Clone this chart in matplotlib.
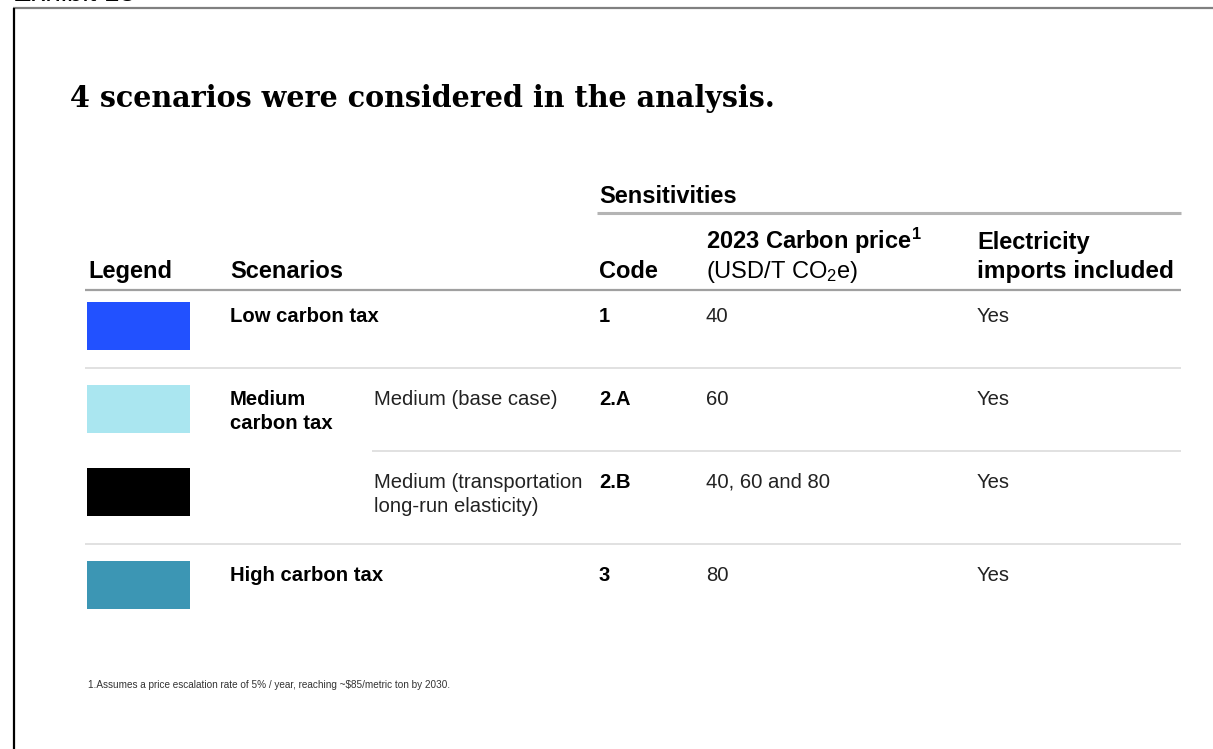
import matplotlib
matplotlib.use("Agg")
import matplotlib.pyplot as plt
from matplotlib.patches import Rectangle

# table content
legend_colors = ["#2251FF", "#AAE6F0", "#000000", "#3C96B4"]
scenarios = ["Low carbon tax", "Medium\ncarbon tax", "", "High carbon tax"]
sub_scenarios = ["", "Medium (base case)", "Medium (transportation\nlong-run elasticity)", ""]
codes = ["1", "2.A", "2.B", "3"]
carbon_prices = ["40", "60", "40, 60 and 80", "80"]
imports_included = ["Yes", "Yes", "Yes", "Yes"]

title = "4 scenarios were considered in the analysis."
footnote = "1.Assumes a price escalation rate of 5% / year, reaching ~$85/metric ton by 2030."

plt.rcParams["mathtext.fontset"] = "custom"
plt.rcParams["mathtext.rm"] = "Liberation Sans"
plt.rcParams["mathtext.it"] = "Liberation Sans:italic"
plt.rcParams["mathtext.bf"] = "Liberation Sans:bold"

W, H = 1213, 749
fig = plt.figure(figsize=(W / 100, H / 100), dpi=100)
ax = fig.add_axes([0, 0, 1, 1])
ax.set_xlim(0, W)
ax.set_ylim(H, 0)
ax.axis("off")

sans = "Liberation Sans"
hfs = 17     # header size
bfs = 14.6   # body size
body_col = "#222222"

# frame
ax.plot([13, W], [8, 8], color="#808080", lw=1.6, solid_capstyle="butt")
ax.plot([14, 14], [8, H], color="black", lw=1.6, solid_capstyle="butt")
ax.text(13, 1, "Exhibit 13", fontsize=20, family=sans, va="baseline", ha="left")

ax.text(70, 107, title, fontsize=20.6, family="DejaVu Serif", weight="bold",
        va="baseline", ha="left")

# column x positions
x_leg, x_scen, x_sub, x_code, x_price, x_imp = 88, 230, 374, 599, 706, 977
right = 1181

ax.text(x_code, 203, "Sensitivities", fontsize=hfs, family=sans, weight="bold", va="baseline")
ax.plot([597, right], [213, 213], color="#B4B4B4", lw=2.2, solid_capstyle="butt")

ax.text(x_leg, 278, "Legend", fontsize=hfs, family=sans, weight="bold", va="baseline")
ax.text(x_scen, 278, "Scenarios", fontsize=hfs, family=sans, weight="bold", va="baseline")
ax.text(x_code, 278, "Code", fontsize=hfs, family=sans, weight="bold", va="baseline")
ax.text(x_price, 249, r"2023 Carbon price$^{\mathbf{1}}$", fontsize=hfs, family=sans,
        weight="bold", va="baseline")
ax.text(x_price, 278, "(USD/T CO$_2$e)", fontsize=hfs, family=sans, va="baseline")
ax.text(x_imp, 249, "Electricity", fontsize=hfs, family=sans, weight="bold", va="baseline")
ax.text(x_imp, 278, "imports included", fontsize=17.6, family=sans, weight="bold",
        va="baseline")
ax.plot([85, right], [290, 290], color="#A0A0A0", lw=1.6, solid_capstyle="butt")

row_top = [302, 385, 468, 561]
sep_y = [368, 451, 544]
sep_x0 = [85, 372, 85]
line_gap = 24

for i, top in enumerate(row_top):
    ax.add_patch(Rectangle((87, top), 103, 48, facecolor=legend_colors[i], edgecolor="none"))
    base = top + 20
    for j, line in enumerate(scenarios[i].split("\n")):
        ax.text(x_scen, base + j * line_gap, line, fontsize=bfs, family=sans,
                weight="bold", va="baseline")
    for j, line in enumerate(sub_scenarios[i].split("\n")):
        ax.text(x_sub, base + j * line_gap, line, fontsize=bfs, family=sans,
                color=body_col, va="baseline")
    ax.text(x_code, base, codes[i], fontsize=bfs, family=sans, weight="bold", va="baseline")
    ax.text(x_price, base, carbon_prices[i], fontsize=bfs, family=sans, color=body_col,
            va="baseline")
    ax.text(x_imp, base, imports_included[i], fontsize=bfs, family=sans, color=body_col,
            va="baseline")

for y, x0 in zip(sep_y, sep_x0):
    ax.plot([x0, right], [y, y], color="#DCDCDC", lw=1.2, solid_capstyle="butt")

ax.text(x_leg, 688, footnote, fontsize=7.2, family=sans, color="#333333", va="baseline")

fig.savefig("out.png", dpi=100)
